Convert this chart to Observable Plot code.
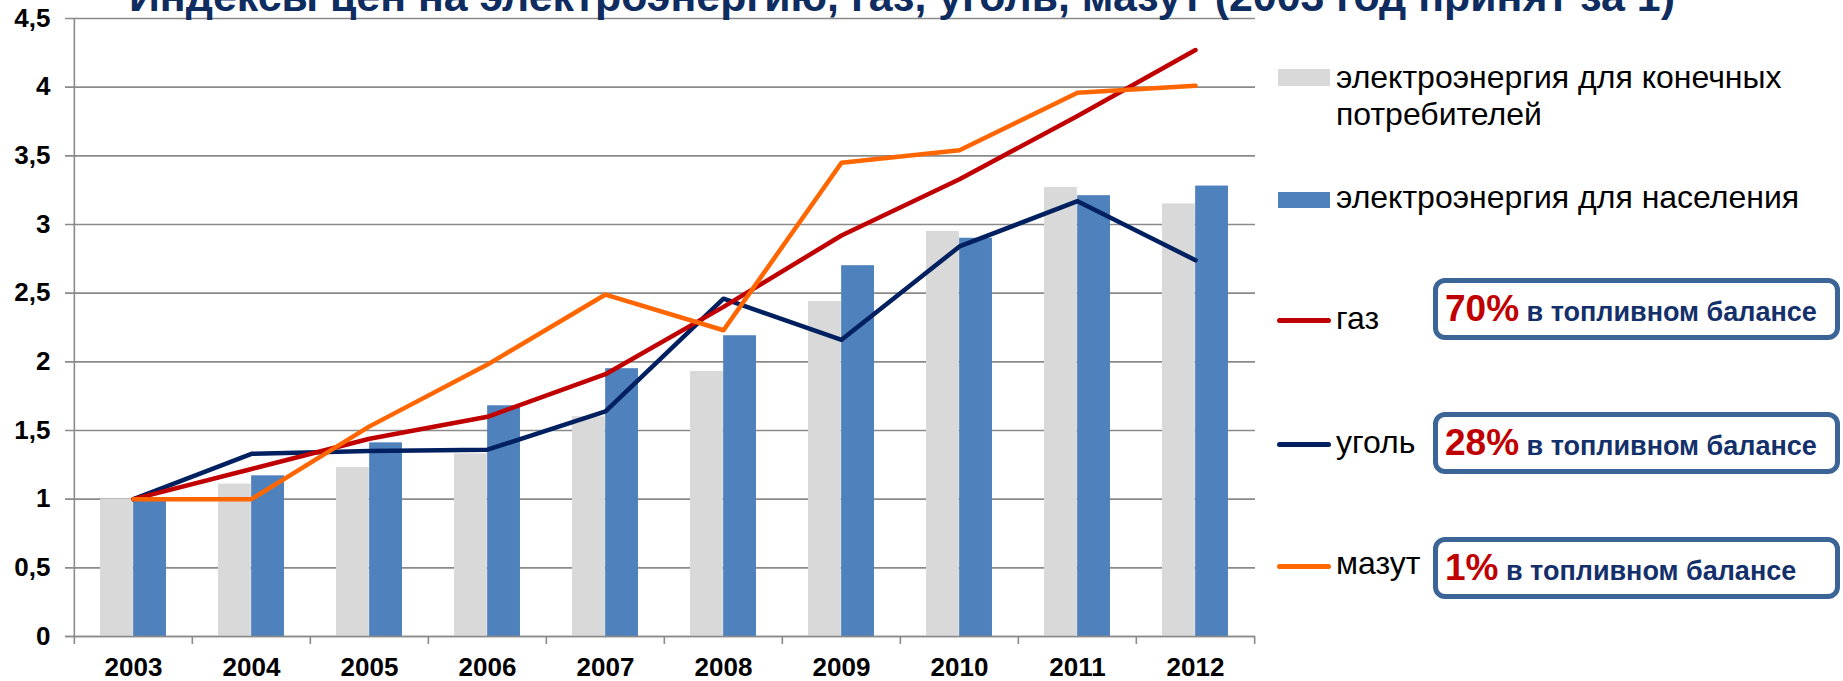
<!DOCTYPE html>
<html>
<head>
<meta charset="utf-8">
<script src="https://cdn.jsdelivr.net/npm/d3@7"></script>
<script src="https://cdn.jsdelivr.net/npm/@observablehq/plot@0.6"></script>
<style>
html, body { margin: 0; padding: 0; background: #fff; }
#wrap { position: relative; width: 1843px; height: 681px; overflow: hidden; font-family: "Liberation Sans", Arial, sans-serif; }
#chart { position: absolute; left: 0; top: 0; }
#title { position: absolute; left: 0; width: 1804px; top: -23px; text-align: center; font-weight: bold; color: #0E2C5F; font-size: 38px; line-height: 38px; white-space: nowrap; }
.sw { position: absolute; }
.lt { position: absolute; left: 1336px; width: 500px; font-size: 32px; line-height: 37px; color: #000; }
.box { position: absolute; left: 1433px; width: 397px; height: 52px; border: 5px solid #3B6497; border-radius: 12px; background: #fff; }
.box .in { position: absolute; left: 7px; top: 0; line-height: 52px; white-space: nowrap; font-weight: bold; }
.box .pct { color: #C00000; font-size: 37px; }
.box .txt { color: #13306A; font-size: 27px; }
</style>
</head>
<body>
<div id="wrap">
  <div id="chart"></div>
  <div id="title"><span id="titletext"></span></div>
  <div id="legend"></div>
</div>
<script>
// ---- data ----
const title = "Индексы цен на электроэнергию, газ, уголь, мазут (2003 год принят за 1)";
const years = [2003, 2004, 2005, 2006, 2007, 2008, 2009, 2010, 2011, 2012];
const endUser   = [1.00, 1.11, 1.23, 1.33, 1.60, 1.93, 2.44, 2.95, 3.27, 3.15];
const household = [1.00, 1.17, 1.41, 1.68, 1.95, 2.19, 2.70, 2.90, 3.21, 3.28];
const gas       = [1.00, 1.22, 1.44, 1.60, 1.91, 2.40, 2.92, 3.33, 3.79, 4.27];
const coal      = [1.00, 1.33, 1.35, 1.36, 1.64, 2.46, 2.16, 2.84, 3.17, 2.74];
const fuelOil   = [1.00, 1.00, 1.53, 1.98, 2.49, 2.23, 3.45, 3.54, 3.96, 4.01];
const yTicks = [0, 0.5, 1, 1.5, 2, 2.5, 3, 3.5, 4, 4.5];
const seriesNames = ["электроэнергия для конечных потребителей", "электроэнергия для населения", "газ", "уголь", "мазут"];
const seriesColors = ["#D9D9D9", "#4F81BD", "#C00000", "#002060", "#FF6600"];
const shares = ["70%", "28%", "1%"];
const shareText = "в топливном балансе";

// ---- layout ----
const W = 1843, H = 681, mL = 72, mR = 588, mT = 18, mB = 45;
const bw = (W - mL - mR) / years.length;
const yMax = yTicks[yTicks.length - 1];
const gridColor = "#8a8a8a";

const rows = years.map((y, i) => ({
  year: String(y), endUser: endUser[i], household: household[i],
  gas: gas[i], coal: coal[i], fuelOil: fuelOil[i]
}));
const fmt = d => String(d).replace(".", ",");

const plot = Plot.plot({
  width: W, height: H,
  marginLeft: mL, marginRight: mR, marginTop: mT, marginBottom: mB,
  style: { fontFamily: "'Liberation Sans', Arial, sans-serif", fontSize: "26px", fontWeight: "bold", color: "#000", background: "transparent" },
  x: { type: "band", domain: rows.map(d => d.year), padding: 0 },
  y: { domain: [0, yMax] },
  marks: [
    Plot.ruleY(yTicks, { stroke: gridColor, strokeWidth: 1.6, insetLeft: -7 }),
    Plot.barY(rows, { x: "year", y: "endUser", fill: seriesColors[0], insetLeft: bw * 0.22, insetRight: bw * 0.5 }),
    Plot.barY(rows, { x: "year", y: "household", fill: seriesColors[1], insetLeft: bw * 0.5, insetRight: bw * 0.22 }),
    Plot.ruleY([0], { stroke: gridColor, strokeWidth: 1.6, insetLeft: -7 }),
    Plot.ruleX(rows, { x: "year", y1: 0, y2: 0, insetBottom: -8, dx: -bw / 2, stroke: gridColor, strokeWidth: 1.6 }),
    Plot.ruleX(rows.slice(-1), { x: "year", y1: 0, y2: 0, insetBottom: -8, dx: bw / 2, stroke: gridColor, strokeWidth: 1.6 }),
    Plot.ruleX(rows.slice(0, 1), { x: "year", y1: 0, y2: yMax, dx: -bw / 2, stroke: gridColor, strokeWidth: 1.6 }),
    Plot.lineY(rows, { x: "year", y: "coal", stroke: seriesColors[3], strokeWidth: 4.5, strokeLinecap: "round" }),
    Plot.lineY(rows, { x: "year", y: "gas", stroke: seriesColors[2], strokeWidth: 4.5, strokeLinecap: "round" }),
    Plot.lineY(rows, { x: "year", y: "fuelOil", stroke: seriesColors[4], strokeWidth: 4.5, strokeLinecap: "round" }),
    Plot.axisY({ ticks: yTicks, tickFormat: fmt, tickSize: 0, tickPadding: 22, label: null }),
    Plot.axisX({ tickSize: 0, tickPadding: 21, label: null })
  ]
});
document.getElementById("chart").appendChild(plot);

// ---- title (fit to reference width) ----
const tt = document.getElementById("titletext");
tt.textContent = title;
const targetW = 1546;
const w0 = tt.getBoundingClientRect().width;
if (w0 > 0) document.getElementById("title").style.fontSize = (38 * targetW / w0).toFixed(2) + "px";

// ---- legend ----
const leg = document.getElementById("legend");
function el(tag, cls, style, text) {
  const e = document.createElement(tag);
  if (cls) e.className = cls;
  if (style) Object.assign(e.style, style);
  if (text != null) e.textContent = text;
  leg.appendChild(e);
  return e;
}
const legendTops = [58.7, 178.7, 300, 424, 545];
const swatchPos = [
  { top: "69px", height: "17px" },
  { top: "192px", height: "16px" }
];
const lineY = [320, 444, 566];
const boxTops = [278, 412, 537];
for (let i = 0; i < 2; i++) {
  el("div", "sw", { left: "1278px", width: "52px", background: seriesColors[i], ...swatchPos[i] });
}
for (let i = 0; i < 3; i++) {
  el("div", "sw", { left: "1277px", width: "54px", height: "5px", borderRadius: "3px", top: (lineY[i] - 2.5) + "px", background: seriesColors[i + 2] });
}
seriesNames.forEach((n, i) => el("div", "lt", { top: legendTops[i] + "px" }, n));
shares.forEach((s, i) => {
  const b = el("div", "box", { top: boxTops[i] + "px" });
  const inner = document.createElement("div");
  inner.className = "in";
  const p = document.createElement("span"); p.className = "pct"; p.textContent = s;
  const t = document.createElement("span"); t.className = "txt"; t.textContent = " " + shareText;
  inner.appendChild(p); inner.appendChild(t);
  b.appendChild(inner);
});
</script>
</body>
</html>
